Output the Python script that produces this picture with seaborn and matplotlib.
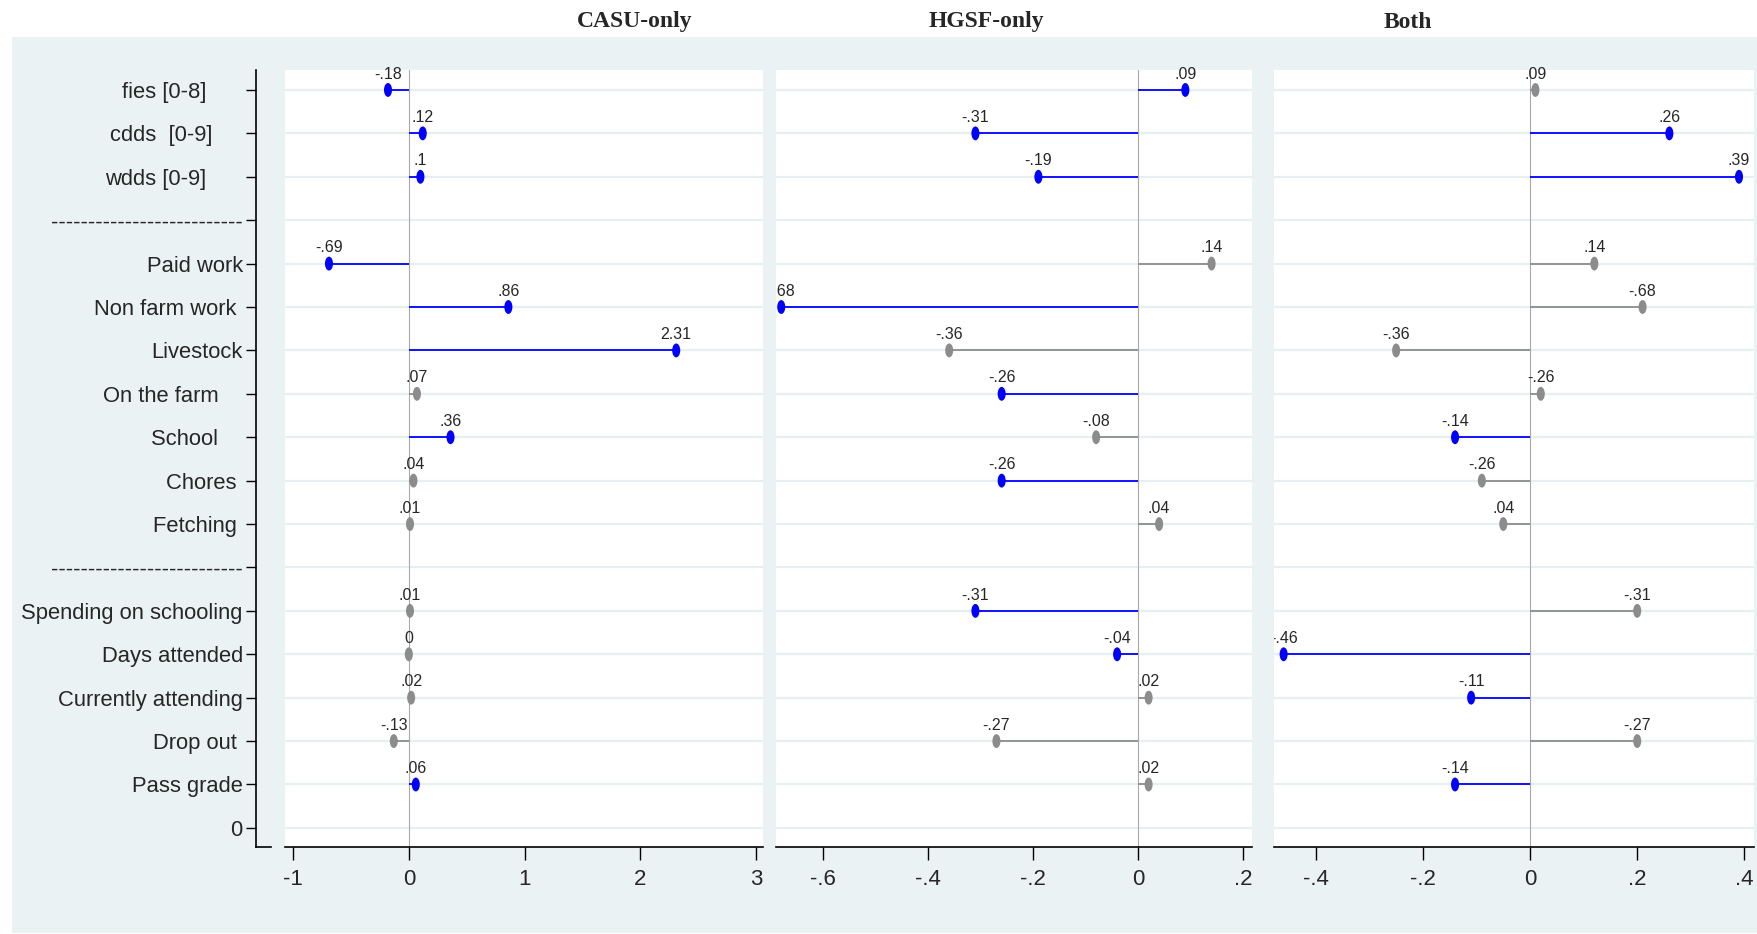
import numpy as np
import pandas as pd
import matplotlib
matplotlib.use('Agg')
import matplotlib.pyplot as plt
import seaborn as sns
from matplotlib.path import Path
from matplotlib.transforms import Affine2D
from matplotlib.patches import Rectangle

# rows from top to bottom (trailing spaces kept as in the original labels)
rows = ['fies [0-8]      ', 'cdds  [0-9]     ', 'wdds [0-9]      ', '--------------------------',
        'Paid work', 'Non farm work ', 'Livestock', 'On the farm    ', 'School    ',
        'Chores ', 'Fetching ', '--------------------------',
        'Spending on schooling', 'Days attended', 'Currently attending', 'Drop out ',
        'Pass grade', '0']

nan = np.nan
casu_val = [-0.18, 0.12, 0.10, nan, -0.69, 0.86, 2.31, 0.07, 0.36, 0.04, 0.01, nan,
            0.01, 0.0, 0.02, -0.13, 0.06, nan]
casu_lab = ['-.18', '.12', '.1', '', '-.69', '.86', '2.31', '.07', '.36', '.04', '.01', '',
            '.01', '0', '.02', '-.13', '.06', '']
casu_sig = [1, 1, 1, 0, 1, 1, 1, 0, 1, 0, 0, 0, 0, 0, 0, 0, 1, 0]

hgsf_val = [0.09, -0.31, -0.19, nan, 0.14, -0.68, -0.36, -0.26, -0.08, -0.26, 0.04, nan,
            -0.31, -0.04, 0.02, -0.27, 0.02, nan]
hgsf_lab = ['.09', '-.31', '-.19', '', '.14', '-.68', '-.36', '-.26', '-.08', '-.26', '.04', '',
            '-.31', '-.04', '.02', '-.27', '.02', '']
hgsf_sig = [1, 1, 1, 0, 0, 1, 0, 1, 0, 1, 0, 0, 1, 1, 0, 0, 0, 0]

both_val = [0.01, 0.26, 0.39, nan, 0.12, 0.21, -0.25, 0.02, -0.14, -0.09, -0.05, nan,
            0.20, -0.46, -0.11, 0.20, -0.14, nan]
both_lab = ['.09', '.26', '.39', '', '.14', '-.68', '-.36', '-.26', '-.14', '-.26', '.04', '',
            '-.31', '-.46', '-.11', '-.27', '-.14', '']
both_sig = [0, 1, 1, 0, 0, 0, 0, 0, 1, 0, 0, 0, 0, 1, 1, 0, 1, 0]

titles = ['CASU-only', 'HGSF-only', 'Both']
title_x = [635, 986, 1408]
xticks = [[-1, 0, 1, 2, 3], [-0.6, -0.4, -0.2, 0, 0.2], [-0.4, -0.2, 0, 0.2, 0.4]]
xticklabels = [['-1', '0', '1', '2', '3'], ['-.6', '-.4', '-.2', '0', '.2'],
               ['-.4', '-.2', '0', '.2', '.4']]
xlims = [(-1.07, 3.06), (-0.69, 0.217), (-0.478, 0.418)]

sns.set_style('white')
plt.rcParams['font.family'] = ['Liberation Sans', 'DejaVu Sans']

W, H = 1758, 934
fig = plt.figure(figsize=(W / 100, H / 100), dpi=100)
fig.add_artist(Rectangle((12 / W, 1 / H), 1 - 12 / W, (933 - 37) / H,
                         transform=fig.transFigure, facecolor='#eaf2f3', edgecolor='none', zorder=0))

bottom = 1 - 847 / H
height = (847 - 70) / H
ylim = (len(rows) - 1 + 0.44, -0.46)
oval = Path.unit_circle().transformed(Affine2D().scale(0.58, 1.0))
palette = {1: '#0000ff', 0: '#8c8c8c'}

# y axis with category labels
ax0 = fig.add_axes([256 / W, bottom, 15 / W, height])
ax0.set_facecolor('none')
ax0.set_ylim(ylim)
ax0.set_yticks(range(len(rows)), labels=rows, fontsize=15.8)
ax0.set_xticks([])
for s in ['top', 'right']:
    ax0.spines[s].set_visible(False)
for s in ['left', 'bottom']:
    ax0.spines[s].set_color('black')
    ax0.spines[s].set_linewidth(1.2)
ax0.tick_params(axis='y', length=7, width=1, color='black', pad=2.5, left=True)

panels = [(casu_val, casu_lab, casu_sig), (hgsf_val, hgsf_lab, hgsf_sig), (both_val, both_lab, both_sig)]
lefts = [285, 776, 1274]
widths = [478, 476, 480]

for i, (vals, labs, sigs) in enumerate(panels):
    ax = fig.add_axes([lefts[i] / W, bottom, widths[i] / W, height])
    ax.set_facecolor('white')
    df = pd.DataFrame({'row': np.arange(len(rows)), 'val': vals, 'lab': labs, 'sig': sigs}).dropna()

    ax.set_ylim(ylim)
    ax.set_xlim(xlims[i])
    ax.set_yticks(range(len(rows)))
    ax.grid(axis='y', color='#e6eff1', lw=1.6)
    ax.grid(axis='x', visible=False)
    ax.set_axisbelow(True)
    ax.tick_params(axis='y', left=False, labelleft=False)
    ax.axvline(0, color='#a9a9a9', lw=0.8, zorder=1)

    ax.hlines(df['row'], 0, df['val'], colors=df['sig'].map(palette), lw=1.3, zorder=2)
    sns.scatterplot(data=df, x='val', y='row', hue='sig', palette=palette, marker=oval,
                    s=100, linewidth=0, legend=False, ax=ax, zorder=3)

    # labels are cut at the panel's sides only, not at its top
    clip = Rectangle((0, 0), 1, 1.1, transform=ax.transAxes, facecolor='none', edgecolor='none')
    for _, r in df.iterrows():
        t = ax.annotate(r['lab'], (r['val'], r['row']), xytext=(0, 6), textcoords='offset points',
                        ha='center', va='bottom', fontsize=11.5, annotation_clip=False)
        t.set_clip_path(clip)
        t.set_clip_on(True)

    ax.set_xticks(xticks[i], labels=xticklabels[i], fontsize=16)
    ax.tick_params(axis='x', bottom=True, length=9, width=1, color='black', pad=7, direction='out')
    ax.set_xlabel('')
    ax.set_ylabel('')
    for s in ['top', 'right', 'left']:
        ax.spines[s].set_visible(False)
    ax.spines['bottom'].set_color('black')
    ax.spines['bottom'].set_linewidth(1.2)

    fig.text(title_x[i] / W, 1 - 22 / H, titles[i], ha='center', va='center',
             fontsize=17, fontweight='bold', family=['Liberation Serif', 'DejaVu Serif'])

fig.savefig('out.png', dpi=100, facecolor='white')
